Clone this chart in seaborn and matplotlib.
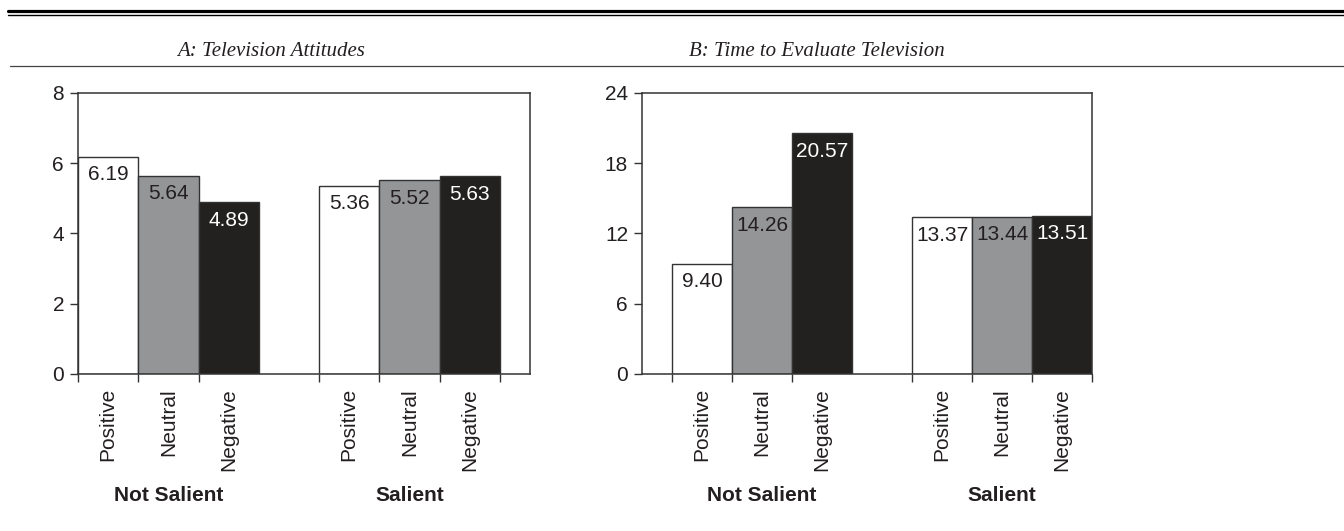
import matplotlib
matplotlib.use("Agg")
import matplotlib.pyplot as plt
from matplotlib.lines import Line2D
import seaborn as sns
import pandas as pd

# ---- data ----
valences = ["Positive", "Neutral", "Negative"]
groups = ["Not Salient", "Salient"]
attitudes_not_salient = [6.19, 5.64, 4.89]
attitudes_salient = [5.36, 5.52, 5.63]
time_not_salient = [9.40, 14.26, 20.57]
time_salient = [13.37, 13.44, 13.51]
panel_titles = ["A: Television Attitudes", "B: Time to Evaluate Television"]
yticks_a = [0, 2, 4, 6, 8]
yticks_b = [0, 6, 12, 18, 24]

INK = "#231f20"
bar_colors = {"Positive": "#ffffff", "Neutral": "#939598", "Negative": "#231f20"}
label_colors = {"Positive": INK, "Neutral": INK, "Negative": "#ffffff"}

sns.set_theme(style="white")
plt.rcParams["font.family"] = ["Liberation Sans", "DejaVu Sans"]

def make_df(not_sal, sal):
    rows = []
    for g, vals in enumerate([not_sal, sal]):
        for i, (v, val) in enumerate(zip(valences, vals)):
            rows.append({"pos": g * 4 + i, "valence": v, "group": groups[g], "value": val})
    return pd.DataFrame(rows)

fig = plt.figure(figsize=(13.44, 5.31), dpi=100)

axes_specs = [
    (78 / 1344, 0.29567, 452 / 1344, 0.52919, (-0.5, 7.0)),
    (642 / 1344, 0.29567, 450 / 1344, 0.52919, (-1.0, 6.5)),
]
datasets = [
    (attitudes_not_salient, attitudes_salient, yticks_a),
    (time_not_salient, time_salient, yticks_b),
]

for (l, b, w, h, xlim), (ns, s, yt) in zip(axes_specs, datasets):
    ax = fig.add_axes([l, b, w, h])
    df = make_df(ns, s)
    sns.barplot(data=df, x="pos", y="value", hue="valence", hue_order=valences,
                palette=bar_colors, native_scale=True, dodge=False, width=1.0,
                edgecolor="#333333", linewidth=1.0, legend=False, ax=ax)
    ax.set_xlim(*xlim)
    ax.set_ylim(yt[0], yt[-1])
    ax.set_yticks(yt)
    ax.set_yticklabels([str(t) for t in yt], fontsize=15, color=INK)
    ax.tick_params(axis="y", left=True, length=6, width=1, color="#333333", pad=4)
    # bar centers as labelled major ticks, edges as minor tick marks
    ax.set_xticks(df["pos"].tolist())
    ax.set_xticklabels(df["valence"].tolist(), rotation=90, fontsize=15, color=INK,
                       va="top", ha="center")
    ax.tick_params(axis="x", which="major", bottom=True, length=0, pad=10)
    edges = [p - 0.5 for p in df["pos"]] + [df["pos"].max() + 0.5]
    edges = [e for e in edges if e > xlim[0]] if xlim[0] < -0.5 else edges
    ax.set_xticks(sorted(set(edges)), minor=True)
    ax.tick_params(axis="x", which="minor", bottom=True, length=6, width=1, color="#333333")
    ax.set_xlabel("")
    ax.set_ylabel("")
    for sp in ax.spines.values():
        sp.set_visible(True)
        sp.set_color("#333333")
        sp.set_linewidth(1.1)
    # value labels inside bar tops
    for _, r in df.iterrows():
        ax.annotate(f"{r['value']:.2f}", (r["pos"], r["value"]), xytext=(0, -13),
                    textcoords="offset points", ha="center", va="center",
                    fontsize=15, color=label_colors[r["valence"]])
    # group labels
    for g, name in enumerate(groups):
        ax.text(g * 4 + 1, -0.434, name, transform=ax.get_xaxis_transform(),
                ha="center", va="center", fontsize=15, fontweight="bold", color=INK)

# headings and rules
for x, t in zip([271 / 1344, 817 / 1344], panel_titles):
    fig.text(x, 1 - 52 / 531, t, ha="center", va="center", fontsize=15,
             style="italic", family=["Liberation Serif", "DejaVu Serif"], color=INK)
fig.add_artist(Line2D([8 / 1344, 1.0], [1 - 10.5 / 531] * 2, color="#000000", lw=2.3))
fig.add_artist(Line2D([8 / 1344, 1.0], [1 - 14.5 / 531] * 2, color="#000000", lw=1.0))
fig.add_artist(Line2D([10 / 1344, 1.0], [1 - 66 / 531] * 2, color="#444444", lw=0.9))

fig.savefig("out.png", dpi=100)
